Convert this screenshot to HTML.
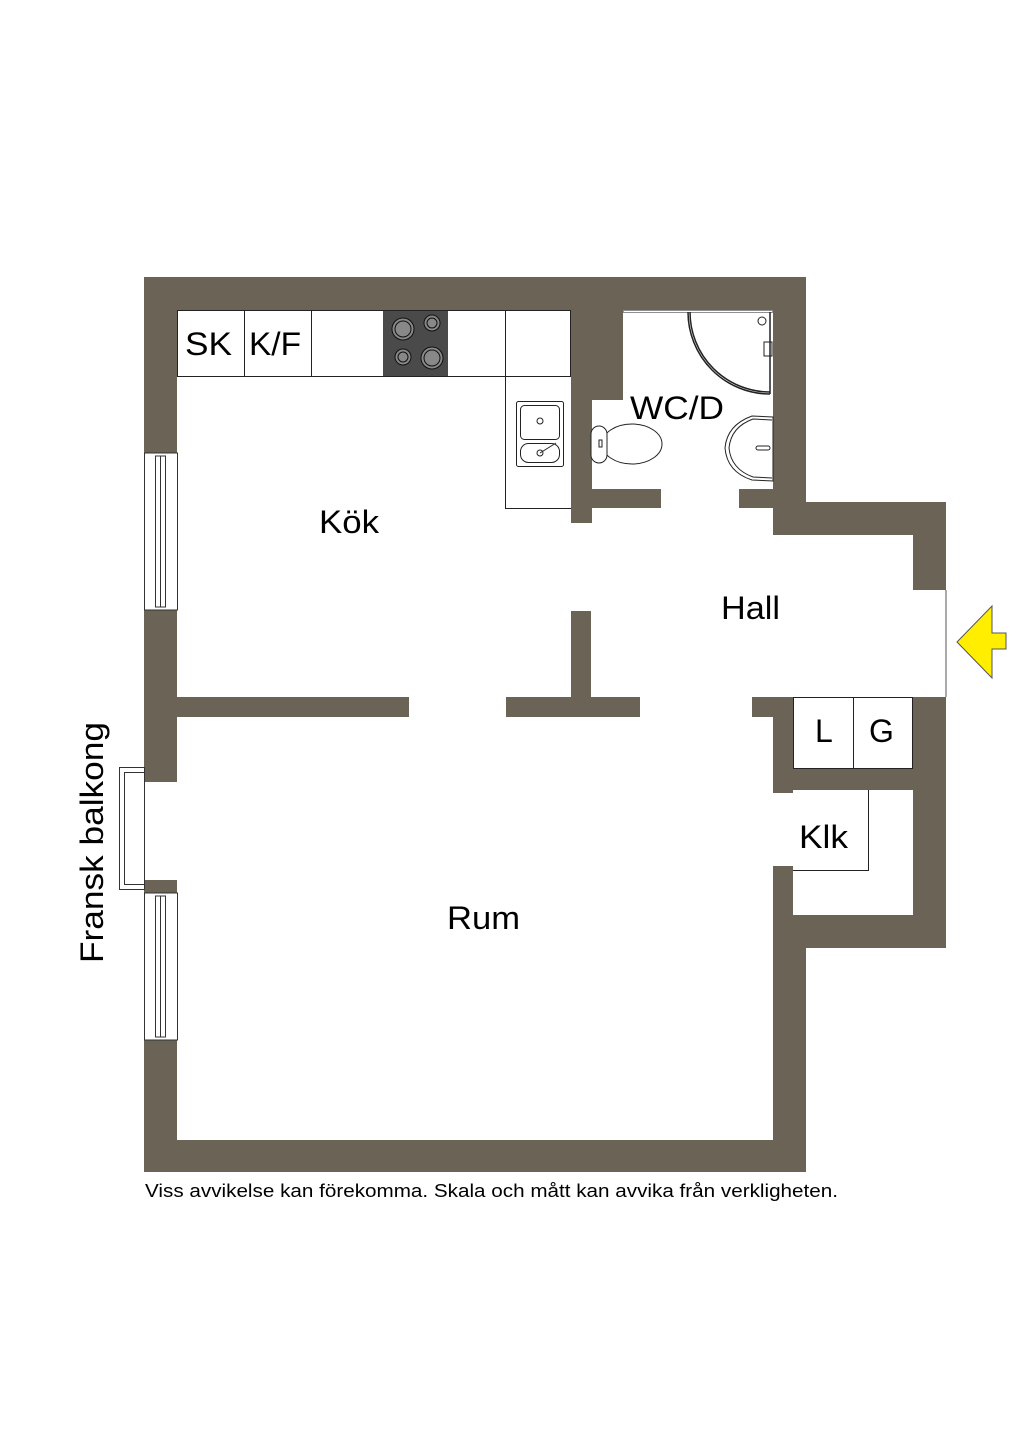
<!DOCTYPE html>
<html><head><meta charset="utf-8"><style>
html,body{margin:0;padding:0;background:#fff}
svg{display:block}
text{font-family:"Liberation Sans",Arial,sans-serif;fill:#000}
</style></head><body>
<svg width="1024" height="1449" viewBox="0 0 1024 1449" xmlns="http://www.w3.org/2000/svg">
<g fill="#6a6356">
<rect x="144" y="277" width="662" height="33"/>
<rect x="144" y="277" width="33" height="176"/>
<rect x="144" y="610" width="33" height="172"/>
<rect x="144" y="880" width="33" height="13"/>
<rect x="144" y="1040" width="33" height="132"/>
<rect x="144" y="1140" width="662" height="32"/>
<rect x="773" y="277" width="33" height="226"/>
<rect x="773" y="948" width="33" height="224"/>
<rect x="773" y="866" width="20" height="82"/>
<rect x="773" y="502" width="173" height="33"/>
<rect x="913" y="502" width="33" height="88"/>
<rect x="913" y="697" width="33" height="251"/>
<rect x="773" y="915" width="173" height="33"/>
<rect x="773" y="697" width="20" height="96"/>
<rect x="752" y="697" width="41" height="20"/>
<rect x="773" y="769" width="140" height="21"/>
<rect x="571" y="310" width="52" height="90"/>
<rect x="571" y="310" width="21" height="213"/>
<rect x="592" y="489" width="69" height="19"/>
<rect x="739" y="489" width="34" height="19"/>
<rect x="177" y="697" width="232" height="20"/>
<rect x="506" y="697" width="134" height="20"/>
<rect x="571" y="611" width="20" height="86"/>
</g>
<line x1="946" y1="590" x2="946" y2="697" stroke="#555" stroke-width="1"/>
<g fill="none" stroke="#333" stroke-width="1">
<rect x="144.5" y="453" width="33" height="157"/>
<rect x="155.5" y="456" width="10" height="151"/>
<line x1="160.5" y1="456" x2="160.5" y2="607"/>
<rect x="144.5" y="893" width="33" height="147"/>
<rect x="155.5" y="896" width="10" height="141"/>
<line x1="160.5" y1="896" x2="160.5" y2="1037"/>
<line x1="144.5" y1="782" x2="144.5" y2="880"/>
<rect x="119.5" y="767.5" width="25" height="122"/>
<rect x="124.5" y="772.5" width="20" height="112"/>
</g>
<g fill="none" stroke="#222" stroke-width="1">
<rect x="177.5" y="310.5" width="393" height="66"/>
<line x1="244.5" y1="310" x2="244.5" y2="376"/>
<line x1="311.5" y1="310" x2="311.5" y2="376"/>
<line x1="505.5" y1="310" x2="505.5" y2="508"/>
<line x1="505" y1="508.5" x2="571" y2="508.5"/>
</g>
<rect x="383" y="311" width="65" height="65" fill="#4a4a4a"/>
<g stroke="#111" fill="#888">
<circle cx="403" cy="329" r="11"/><circle cx="403" cy="329" r="8"/>
<circle cx="432" cy="323" r="8"/><circle cx="432" cy="323" r="5"/>
<circle cx="403" cy="357" r="8"/><circle cx="403" cy="357" r="5"/>
<circle cx="432" cy="358" r="11"/><circle cx="432" cy="358" r="8"/>
</g>
<g fill="none" stroke="#222" stroke-width="1">
<rect x="516.5" y="401.5" width="47" height="65" rx="2"/>
<rect x="520.5" y="405.5" width="39" height="34" rx="4"/>
<rect x="520.5" y="443.5" width="39" height="19" rx="8"/>
<circle cx="540" cy="421" r="3"/>
<circle cx="540" cy="453" r="3"/>
<line x1="540" y1="453" x2="556" y2="443"/>
</g>
<g fill="none" stroke="#222" stroke-width="1.5">
<rect x="623.5" y="310.5" width="149" height="2" stroke-width="0.5"/>
<path d="M688 312 A 82 82 0 0 0 770 394"/>
<path d="M690 312 A 80 80 0 0 0 770 392"/>
<line x1="770" y1="312" x2="770" y2="394"/>
<circle cx="762" cy="321" r="4" stroke-width="1"/>
<rect x="764" y="342" width="8" height="14" stroke-width="1"/>
</g>
<g fill="#fff" stroke="#222" stroke-width="1">
<ellipse cx="632" cy="444" rx="30" ry="20"/>
<rect x="591" y="426" width="16" height="37" rx="8"/>
<rect x="599" y="440" width="3" height="7"/>
</g>
<g fill="#fff" stroke="#222" stroke-width="1">
<path d="M773 417 L752 416 Q727 425 725 448 Q727 472 752 480 L773 481 Z"/>
<path d="M772 420 L753 419 Q731 427 729 448 Q731 469 753 477 L772 478"/>
<rect x="756" y="446" width="14" height="4" rx="2"/>
</g>
<g fill="none" stroke="#222" stroke-width="1">
<rect x="793.5" y="697.5" width="119" height="71"/>
<line x1="853.5" y1="697" x2="853.5" y2="769"/>
<polyline points="793,870.5 868.5,870.5 868.5,790"/>
</g>
<polygon points="957,642 992,606 992,633 1006,633 1006,649 992,649 992,678" fill="#ffee00" stroke="#555" stroke-width="1"/>
<g font-size="32">
<text x="185" y="355" textLength="47" lengthAdjust="spacingAndGlyphs">SK</text>
<text x="249" y="355" textLength="52" lengthAdjust="spacingAndGlyphs">K/F</text>
<text x="319" y="533" textLength="60" lengthAdjust="spacingAndGlyphs">Kök</text>
<text x="630" y="419" textLength="94" lengthAdjust="spacingAndGlyphs">WC/D</text>
<text x="721" y="619" textLength="59" lengthAdjust="spacingAndGlyphs">Hall</text>
<text x="815" y="742">L</text>
<text x="869" y="742">G</text>
<text x="799" y="848" textLength="49" lengthAdjust="spacingAndGlyphs">Klk</text>
<text x="447" y="929" textLength="73" lengthAdjust="spacingAndGlyphs">Rum</text>
<text transform="translate(103,963) rotate(-90)" textLength="241" lengthAdjust="spacingAndGlyphs">Fransk balkong</text>
</g>
<text x="145" y="1197" font-size="18" textLength="693" lengthAdjust="spacingAndGlyphs">Viss avvikelse kan förekomma. Skala och mått kan avvika från verkligheten.</text>
</svg>
</body></html>
